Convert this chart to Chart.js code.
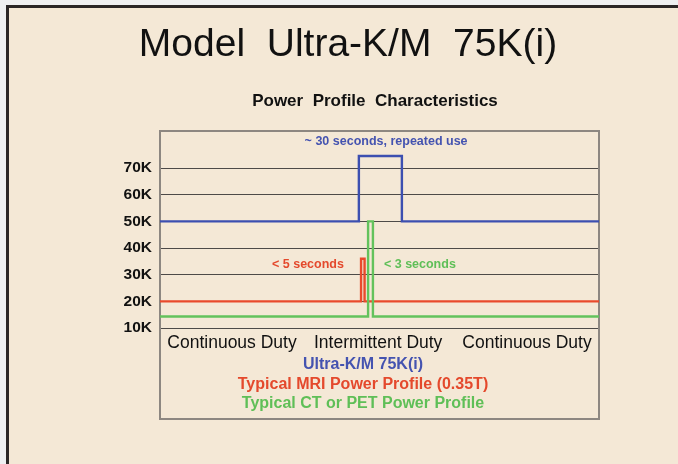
<!DOCTYPE html>
<html>
<head>
<meta charset="utf-8">
<script src="https://cdn.jsdelivr.net/npm/chart.js@4.4.1/dist/chart.umd.min.js"></script>
<style>
  body { margin: 0; background: #eff0f2; }
  #panel { position: absolute; left: 6px; top: 5px; width: 672px; height: 459px;
           background: #f4e8d6; border-left: 3px solid #2b2727; border-top: 3px solid #2b2727; box-sizing: border-box; }
  #grafico { position: absolute; left: 0; top: 0; }
</style>
</head>
<body>
<div id="panel"></div>
<canvas id="grafico" width="678" height="464"></canvas>
<script>
// datos (potencia en K, eje x en % del tiempo)
const ultraX = [0, 45.3, 45.3, 55.1, 55.1, 100];
const ultraY = [50, 50, 74.5, 74.5, 50, 50];
const mriX = [0, 45.8, 45.8, 46.6, 46.6, 100];
const mriY = [20, 20, 36, 36, 20, 20];
const ctX = [0, 47.4, 47.4, 48.5, 48.5, 100];
const ctY = [14.3, 14.3, 50, 50, 14.3, 14.3];

const yTicks = [10, 20, 30, 40, 50, 60, 70];
const dutyLabels = ["Continuous Duty", "Intermittent Duty", "Continuous Duty"];
const dutyPos = [16.4, 49.7, 83.6];

const nombres = ["Ultra-K/M 75K(i)", "Typical MRI Power Profile (0.35T)", "Typical CT or PET Power Profile"];
const colores = ["#3c4fb0", "#e94a2c", "#63c25c"];
const textoColores = ["#4453b0", "#e4492c", "#5fbf57"];

// notas sobre el grafico
const notas = [
  { texto: "~ 30 seconds, repeated use", x: 51.5, y: 80, color: "#4453b0" },
  { texto: "< 5 seconds", x: 33.7, y: 33.7, color: "#e4492c" },
  { texto: "< 3 seconds", x: 59.2, y: 33.7, color: "#5fbf57" }
];

function puntos(xs, ys) {
  return xs.map((x, i) => ({ x, y: ys[i] }));
}

const textos = {
  id: "textos",
  beforeDatasetsDraw(chart) {
    const { ctx, chartArea } = chart;
    ctx.save();
    ctx.strokeStyle = "#8d8781";
    ctx.lineWidth = 2;
    ctx.strokeRect(chartArea.left, chartArea.top, chartArea.right - chartArea.left, 419 - chartArea.top);
    ctx.restore();
  },
  afterDraw(chart) {
    const { ctx, scales } = chart;
    ctx.save();
    ctx.textAlign = "center";
    ctx.textBaseline = "middle";
    ctx.fillStyle = "#111";
    ctx.font = "39px 'Liberation Sans', Arial, sans-serif";
    ctx.fillText("Model  Ultra-K/M  75K(i)", 348, 45);
    ctx.font = "bold 17px 'Liberation Sans', Arial, sans-serif";
    ctx.fillText("Power  Profile  Characteristics", 375, 101);

    ctx.font = "bold 12.5px 'Liberation Sans', Arial, sans-serif";
    notas.forEach(n => {
      ctx.fillStyle = n.color;
      ctx.fillText(n.texto, scales.x.getPixelForValue(n.x), scales.y.getPixelForValue(n.y));
    });

    ctx.font = "bold 16px 'Liberation Sans', Arial, sans-serif";
    nombres.forEach((nombre, i) => {
      ctx.fillStyle = textoColores[i];
      ctx.fillText(nombre, 363, 365 + i * 19.5);
    });
    ctx.restore();
  }
};

const datasets = [ultraX, mriX, ctX].map((xs, i) => ({
  label: nombres[i],
  data: puntos(xs, [ultraY, mriY, ctY][i]),
  borderColor: colores[i],
  borderWidth: 2.4,
  pointRadius: 0,
  tension: 0,
  fill: false
}));
// dibujar el rojo y verde encima del azul
datasets.reverse();

new Chart(document.getElementById("grafico"), {
  type: "line",
  data: { datasets },
  options: {
    responsive: false,
    animation: false,
    layout: { padding: { left: 0, top: 131, right: 79, bottom: 0 } },
    plugins: { legend: { display: false }, tooltip: { enabled: false } },
    scales: {
      x: {
        type: "linear",
        min: 0,
        max: 100,
        afterFit: s => { s.height = 136; },
        afterBuildTicks: s => { s.ticks = dutyPos.map(v => ({ value: v })); },
        grid: { display: false, drawTicks: false, tickLength: 0 },
        border: { display: false },
        ticks: {
          autoSkip: false,
          maxRotation: 0,
          padding: 5,
          color: "#111",
          font: { family: "'Liberation Sans', Arial, sans-serif", size: 17.5 },
          callback: (v, i) => dutyLabels[i]
        }
      },
      y: {
        min: 10,
        max: 83.9,
        afterFit: s => { s.width = 160; },
        afterBuildTicks: s => { s.ticks = yTicks.map(v => ({ value: v })); },
        grid: { color: "#4d4a48", lineWidth: 1, drawTicks: false },
        border: { display: false },
        ticks: {
          padding: 8,
          color: "#111",
          font: { family: "'Liberation Sans', Arial, sans-serif", size: 15.5, weight: "bold" },
          callback: v => v + "K"
        }
      }
    }
  },
  plugins: [textos]
});
</script>
</body>
</html>
